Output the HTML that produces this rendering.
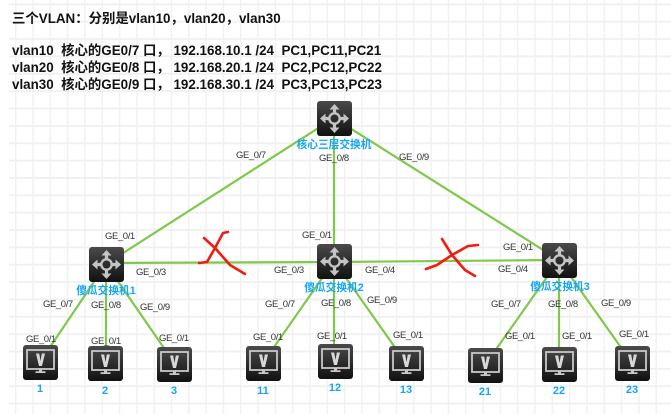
<!DOCTYPE html>
<html>
<head>
<meta charset="utf-8">
<style>
html,body{margin:0;padding:0;background:#fff}
svg{display:block}
text{font-family:"Liberation Sans","Noto Sans CJK SC",sans-serif}
.h{font-size:13.4px;font-weight:bold;fill:#111}
.l{font-size:9.5px;fill:#333;letter-spacing:-0.4px}
.n{font-size:10.7px;font-weight:bold;fill:#16a6f5;text-anchor:middle}
.d{font-size:11px}
.c{stroke:#7fc94a;stroke-width:2.2;fill:none}
.x{stroke:#f01c10;stroke-width:2.6;fill:none;stroke-linecap:round;stroke-linejoin:round}
</style>
</head>
<body>
<svg width="671" height="414" viewBox="0 0 671 414" xmlns="http://www.w3.org/2000/svg">
<defs>
<pattern id="g" x="15" y="3.4" width="17.31" height="17.36" patternUnits="userSpaceOnUse">
<rect x="0" y="0" width="1.4" height="17.36" fill="#f1f1f1"/>
<rect x="0" y="0" width="17.31" height="1.8" fill="#f0f0f0"/>
</pattern>
<linearGradient id="b" x1="0" y1="0" x2="0" y2="1">
<stop offset="0" stop-color="#4a4a4a"/><stop offset="1" stop-color="#111"/>
</linearGradient>
<g id="sw">
<rect width="35" height="35" rx="3" fill="url(#b)"/>
<circle cx="17.5" cy="17.5" r="5.2" fill="none" stroke="#c4c4c4" stroke-width="2.4"/>
<g fill="#c4c4c4">
<path d="M17.5 3l5 5.500h-3.400v3.800h-3.200v-3.800h-3.400z"/>
<path d="M17.5 32l5-5.500h-3.400v-3.800h-3.200v3.800h-3.400z"/>
<path d="M3 17.500l5.500-5v3.400h3.800v3.200h-3.800v3.400z"/>
<path d="M32 17.500l-5.500-5v3.400h-3.800v3.200h3.800v3.400z"/>
</g>
</g>
<g id="pc">
<rect width="35" height="35" rx="3" fill="url(#b)"/>
<rect x="4" y="5" width="27" height="19" fill="none" stroke="#c8c8c8" stroke-width="1.8"/>
<path d="M13 8.500h3.200l1.300 7.500 1.300-7.500h3.200l-3 12.500h-3z" fill="#d8d8d8"/>
<path d="M16 24h3v2.200h3.500v1.800h-10v-1.800h3.500z" fill="#c8c8c8"/>
</g>
</defs>
<rect width="671" height="414" fill="#fff"/>
<rect x="9" y="0" width="662" height="414" fill="url(#g)"/>

<text class="h" x="12" y="23">三个VLAN：分别是vlan10，vlan20，vlan30</text>
<text class="h" x="12" y="55" xml:space="preserve">vlan10  核心的GE0/7 口， 192.168.10.1 /24  PC1,PC11,PC21</text>
<text class="h" x="12" y="72" xml:space="preserve">vlan20  核心的GE0/8 口， 192.168.20.1 /24  PC2,PC12,PC22</text>
<text class="h" x="12" y="89" xml:space="preserve">vlan30  核心的GE0/9 口， 192.168.30.1 /24  PC3,PC13,PC23</text>

<g class="c">
<path class="c" d="M334 118L106 264"/>
<path class="c" d="M334 118V261"/>
<path class="c" d="M334 118L559 260"/>
<path class="c" d="M106 263L334 262"/>
<path class="c" d="M334 262L559 260"/>
<path class="c" d="M106 264L40 362"/>
<path class="c" d="M106 264V363"/>
<path class="c" d="M106 264L175 364"/>
<path class="c" d="M334 261L263 363"/>
<path class="c" d="M334 261V361"/>
<path class="c" d="M334 261L406 363"/>
<path class="c" d="M559 260L485 365"/>
<path class="c" d="M559 260V364"/>
<path class="c" d="M559 260L632 363"/>
</g>

<use href="#sw" x="317" y="101"/>
<use href="#sw" x="89" y="247"/>
<use href="#sw" x="317" y="244"/>
<use href="#sw" x="542" y="243"/>

<use href="#pc" x="23" y="345"/>
<use href="#pc" x="88" y="346"/>
<use href="#pc" x="157" y="347"/>
<use href="#pc" x="246" y="346"/>
<use href="#pc" x="318" y="344"/>
<use href="#pc" x="389" y="346"/>
<use href="#pc" x="468" y="348"/>
<use href="#pc" x="542" y="347"/>
<use href="#pc" x="615" y="346"/>

<path class="x" d="M199 263L207 262L215 248L223 233L228 232M204 238L215 248L230 265L245 274"/>
<path class="x" d="M426 269L437 265L452 255L468 246L478 245M442 239L452 255L465 270L475 276"/>

<text class="n" x="334" y="148">核心三层交换机</text>
<text class="n" x="106" y="294">傻瓜交换机1</text>
<text class="n" x="334" y="291">傻瓜交换机2</text>
<text class="n" x="560" y="290">傻瓜交换机3</text>
<text class="n d" x="40" y="392">1</text>
<text class="n d" x="105" y="394">2</text>
<text class="n d" x="174" y="394">3</text>
<text class="n d" x="263" y="394">11</text>
<text class="n d" x="335" y="391">12</text>
<text class="n d" x="406" y="393">13</text>
<text class="n d" x="485" y="395">21</text>
<text class="n d" x="559" y="394">22</text>
<text class="n d" x="632" y="393">23</text>

<g class="l">
<text x="236" y="158">GE_0/7</text>
<text x="319" y="161">GE_0/8</text>
<text x="399" y="160">GE_0/9</text>
<text x="105" y="239">GE_0/1</text>
<text x="302" y="238">GE_0/1</text>
<text x="503" y="250">GE_0/1</text>
<text x="136" y="275">GE_0/3</text>
<text x="274" y="273">GE_0/3</text>
<text x="365" y="273">GE_0/4</text>
<text x="498" y="272">GE_0/4</text>
<text x="43" y="307">GE_0/7</text>
<text x="91" y="308">GE_0/8</text>
<text x="140" y="310">GE_0/9</text>
<text x="265" y="307">GE_0/7</text>
<text x="321" y="306">GE_0/8</text>
<text x="367" y="303">GE_0/9</text>
<text x="491" y="307">GE_0/7</text>
<text x="548" y="307">GE_0/8</text>
<text x="601" y="306">GE_0/9</text>
<text x="26" y="342">GE_0/1</text>
<text x="91" y="344">GE_0/1</text>
<text x="159" y="341">GE_0/1</text>
<text x="253" y="340">GE_0/1</text>
<text x="317" y="339">GE_0/1</text>
<text x="393" y="338">GE_0/1</text>
<text x="505" y="339">GE_0/1</text>
<text x="562" y="339">GE_0/1</text>
<text x="619" y="337">GE_0/1</text>
</g>
</svg>
</body>
</html>
